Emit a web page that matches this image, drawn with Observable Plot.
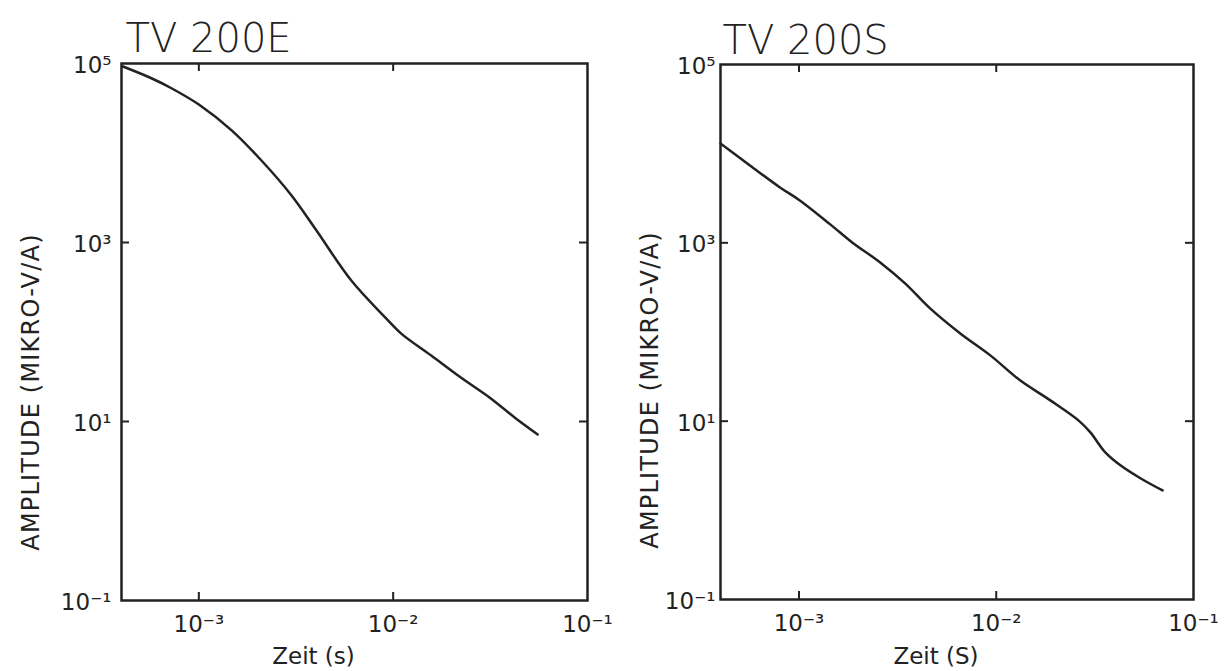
<!DOCTYPE html>
<html>
<head>
<meta charset="utf-8">
<script src="https://cdn.jsdelivr.net/npm/d3@7"></script>
<script src="https://cdn.jsdelivr.net/npm/@observablehq/plot@0.6"></script>
<style>
  html, body { margin: 0; padding: 0; background: #fff; }
  #wrap { display: flex; width: 1227px; height: 671px; overflow: hidden; }
  #wrap svg text[transform*="rotate(-90)"] { letter-spacing: 1.2px; }
</style>
</head>
<body>
<div id="wrap"></div>
<script>
// ---- data ----
const panelTitles = ["TV 200E", "TV 200S"];
const xLabels = ["Zeit (s)", "Zeit (S)"];
const yLabel = "AMPLITUDE (MIKRO-V/A)";

const xTicks = [1e-3, 1e-2, 1e-1];
const xTickLabels = ["10⁻³", "10⁻²", "10⁻¹"];
const yTicks = [1e-1, 1e1, 1e3, 1e5];
const yTickLabels = ["10⁻¹", "10¹", "10³", "10⁵"];
const xInnerTicks = [1e-3, 1e-2];
const yInnerTicks = [1e1, 1e3];
const xDomain = [4e-4, 1e-1];
const yDomain = [1e-1, 1e5];

// TV 200E
const eTime = [4.07e-4, 5.74e-4, 7.27e-4, 1.0e-3, 1.48e-3, 2.10e-3, 3.0e-3, 4.03e-3, 6.09e-3, 9.2e-3, 1.10e-2, 1.57e-2, 2.23e-2, 3.18e-2, 4.28e-2, 5.54e-2];
const eAmp  = [9.25e4, 6.8e4, 5.26e4, 3.48e4, 1.78e4, 8.24e3, 3.35e3, 1.36e3, 376, 142, 96, 54.6, 31.0, 18.1, 10.8, 7.16];

// TV 200S
const sTime = [4.0e-4, 5.64e-4, 8.01e-4, 1.01e-3, 1.44e-3, 1.86e-3, 2.58e-3, 3.45e-3, 4.62e-3, 6.57e-3, 9.33e-3, 1.32e-2, 1.88e-2, 2.61e-2, 3.00e-2, 3.57e-2, 4.26e-2, 5.38e-2, 6.97e-2];
const sAmp  = [1.30e4, 7.38e3, 4.18e3, 2.99e3, 1.61e3, 1.01e3, 603, 351, 184, 96.4, 54.7, 28.7, 17.1, 10.2, 7.48, 4.47, 3.20, 2.29, 1.67];

const ink = "#222";
const font = "'DejaVu Sans', 'Liberation Sans', sans-serif";

function panel({title, xLabel, times, amps, width, mL, mR, mT, mB, titleDx, titleDy, yPad, yLabDx, yLabDy, xLabDx, xLabDy}) {
  const data = times.map((t, i) => ({t, a: amps[i]}));
  const H = 671;
  const innerH = H - mT - mB;
  const innerW = width - mL - mR;
  const tk = 8;
  return Plot.plot({
    width, height: H,
    marginLeft: mL, marginRight: mR, marginTop: mT, marginBottom: mB,
    style: {fontFamily: font, fontSize: "22px", color: ink, background: "#fff", overflow: "visible"},
    x: {type: "log", domain: xDomain, axis: null},
    y: {type: "log", domain: yDomain, axis: null},
    marks: [
      Plot.ruleX(xInnerTicks, {x: d => d, insetTop: innerH - tk, stroke: ink, strokeWidth: 2}),
      Plot.ruleX(xInnerTicks, {x: d => d, insetBottom: innerH - tk, stroke: ink, strokeWidth: 2}),
      Plot.ruleY(yInnerTicks, {y: d => d, insetRight: innerW - tk, stroke: ink, strokeWidth: 2}),
      Plot.ruleY(yInnerTicks, {y: d => d, insetLeft: innerW - tk, stroke: ink, strokeWidth: 2}),
      Plot.frame({stroke: ink, strokeWidth: 2.5}),
      Plot.axisX(xTicks, {anchor: "bottom", tickSize: 0, tickPadding: 15, fontSize: 23,
        tickFormat: d => xTickLabels[xTicks.indexOf(d)], label: null}),
      Plot.axisY(yTicks, {anchor: "left", tickSize: 0, tickPadding: yPad, fontSize: 23, dy: 2,
        tickFormat: d => yTickLabels[yTicks.indexOf(d)], label: null}),
      Plot.line(data, {x: "t", y: "a", stroke: ink, strokeWidth: 2.5, curve: "catmull-rom"}),
      Plot.text([title], {text: d => d, frameAnchor: "top-left", textAnchor: "start", lineAnchor: "bottom",
        dx: titleDx, dy: titleDy, fontSize: 40, fontWeight: 300, fill: ink}),
      Plot.text([yLabel], {text: d => d, frameAnchor: "left", rotate: -90, textAnchor: "middle", lineAnchor: "middle",
        dx: yLabDx, dy: yLabDy, fontSize: 24, fill: ink}),
      Plot.text([xLabel], {text: d => d, frameAnchor: "bottom", textAnchor: "middle", lineAnchor: "middle",
        dx: xLabDx, dy: xLabDy, fontSize: 23, fill: ink})
    ]
  });
}

const wrap = document.getElementById("wrap");
wrap.appendChild(panel({
  title: panelTitles[0], xLabel: xLabels[0], times: eTime, amps: eAmp,
  width: 614, mL: 121, mR: 27, mT: 63, mB: 71,
  titleDx: 4, titleDy: -12, yPad: 10,
  yLabDx: -90, yLabDy: 60, xLabDx: -41, xLabDy: 56
}));
wrap.appendChild(panel({
  title: panelTitles[1], xLabel: xLabels[1], times: sTime, amps: sAmp,
  width: 613, mL: 106, mR: 34, mT: 64, mB: 72,
  titleDx: 2, titleDy: -11, yPad: 5,
  yLabDx: -70, yLabDy: 58, xLabDx: -21, xLabDy: 57
}));
</script>
</body>
</html>
